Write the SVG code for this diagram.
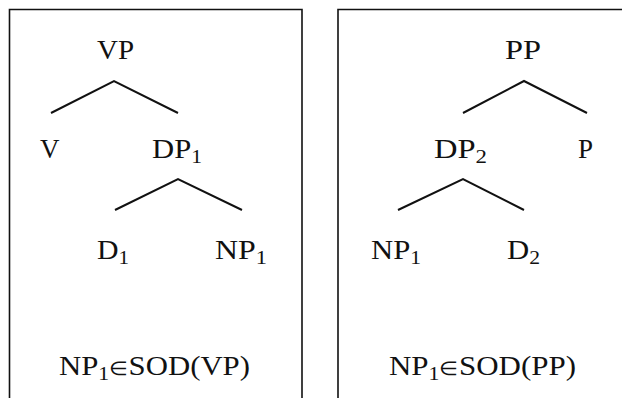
<svg xmlns="http://www.w3.org/2000/svg" width="622" height="398" viewBox="0 0 622 398">
<style>
.box{fill:none;stroke:#111;stroke-width:1.6}
.edge{fill:none;stroke:#111;stroke-width:2}
text{font-family:"Liberation Serif","Times New Roman",serif;font-size:27px;fill:#111}
.sub{font-size:19px}
.el{font-size:19px}
</style>
<rect width="622" height="398" fill="#fff"/>
<g id="frames">
<path class="box" d="M9.5,405 V9.5 H302 V405"/>
<path class="box" d="M338,405 V9.5 H630"/>
</g>
<g id="connectors">
<polyline class="edge" points="51,113 114,81 178,113"/>
<polyline class="edge" points="115,210 178,179 242,210"/>
<polyline class="edge" points="463,113 524,81 587,113"/>
<polyline class="edge" points="398,210 463,179 524,210"/>
</g>
<g id="VP"><text x="97" y="59" textLength="37" lengthAdjust="spacingAndGlyphs">VP</text></g>
<g id="V"><text x="40" y="158">V</text></g>
<g id="DP1"><text x="152" y="158" textLength="50" lengthAdjust="spacingAndGlyphs">DP<tspan class="sub" dy="5">1</tspan></text></g>
<g id="D1"><text x="97" y="259" textLength="32" lengthAdjust="spacingAndGlyphs">D<tspan class="sub" dy="5">1</tspan></text></g>
<g id="NP1a"><text x="215" y="259" textLength="52" lengthAdjust="spacingAndGlyphs">NP<tspan class="sub" dy="5">1</tspan></text></g>
<g id="labelVP"><text x="59" y="375" textLength="191" lengthAdjust="spacingAndGlyphs">NP<tspan class="sub" dy="5">1</tspan><tspan class="el" dy="-5">∈</tspan><tspan>SOD(VP)</tspan></text></g>
<g id="PP"><text x="505" y="59" textLength="36" lengthAdjust="spacingAndGlyphs">PP</text></g>
<g id="DP2"><text x="434" y="158" textLength="53" lengthAdjust="spacingAndGlyphs">DP<tspan class="sub" dy="5">2</tspan></text></g>
<g id="P"><text x="578" y="158">P</text></g>
<g id="NP1b"><text x="371" y="259" textLength="50" lengthAdjust="spacingAndGlyphs">NP<tspan class="sub" dy="5">1</tspan></text></g>
<g id="D2"><text x="507" y="259" textLength="33" lengthAdjust="spacingAndGlyphs">D<tspan class="sub" dy="5">2</tspan></text></g>
<g id="labelPP"><text x="389" y="375" textLength="187" lengthAdjust="spacingAndGlyphs">NP<tspan class="sub" dy="5">1</tspan><tspan class="el" dy="-5">∈</tspan><tspan>SOD(PP)</tspan></text></g>
</svg>
